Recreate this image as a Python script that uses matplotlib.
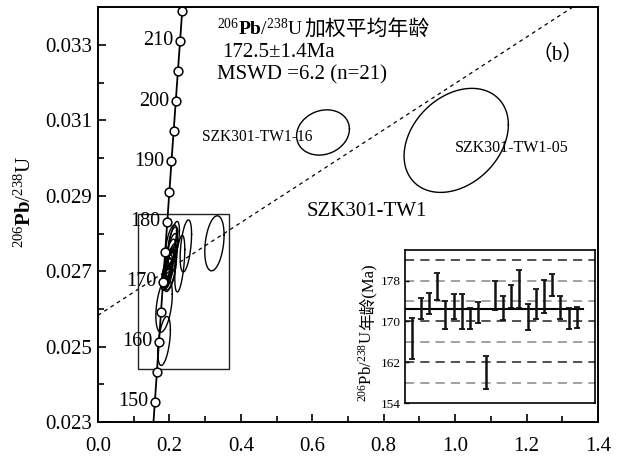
import numpy as np
import matplotlib
matplotlib.use('Agg')
import matplotlib.pyplot as plt
from matplotlib.patches import Rectangle

plt.rcParams['font.family'] = ['Liberation Serif', 'Noto Sans CJK SC']
plt.rcParams['mathtext.fontset'] = 'custom'
plt.rcParams['mathtext.rm'] = 'Liberation Serif'
plt.rcParams['mathtext.bf'] = 'Liberation Serif:bold'
plt.rcParams['mathtext.it'] = 'Liberation Serif:italic'

# ---------------- data ----------------
L238 = 1.55125e-10
L235 = 9.8485e-10
marker_ages = [145, 150, 155, 160, 165, 170, 175, 180, 185, 190, 195, 200, 205, 210, 215]
label_ages = [150, 160, 170, 180, 190, 200, 210]

# error ellipses: centre x (207Pb/235U), centre y (206Pb/238U), half-widths, correlation
ell_x = [0.185, 0.185, 0.326, 0.246, 0.229,
         0.195, 0.200, 0.205, 0.192, 0.198, 0.203, 0.190, 0.194,
         0.207, 0.199, 0.203, 0.212, 0.201, 0.206, 0.210, 0.196,
         1.003, 0.630]
ell_y = [0.02515, 0.02610, 0.02774, 0.02767, 0.02720,
         0.02712, 0.02728, 0.02781, 0.02693, 0.02719, 0.02704, 0.02682, 0.02699,
         0.02754, 0.02714, 0.02750, 0.02774, 0.02687, 0.02727, 0.02785, 0.02686,
         0.03047, 0.03068]
ell_sx = [0.0177, 0.023, 0.027, 0.016, 0.014,
          0.013, 0.014, 0.015, 0.015, 0.014, 0.017, 0.012, 0.013,
          0.015, 0.013, 0.014, 0.016, 0.016, 0.015, 0.013, 0.012,
          0.146, 0.074]
ell_sy = [0.00065, 0.00072, 0.00073, 0.00069, 0.00075,
          0.00032, 0.00034, 0.00042, 0.00043, 0.00038, 0.00054, 0.00032, 0.00034,
          0.00046, 0.00036, 0.00035, 0.00058, 0.00041, 0.00046, 0.00033, 0.00032,
          0.00138, 0.00060]
ell_rho = [0.45, 0.4, 0.3, 0.45, 0.5,
           0.6, 0.6, 0.6, 0.6, 0.6, 0.6, 0.6, 0.6,
           0.6, 0.6, 0.6, 0.6, 0.6, 0.6, 0.6, 0.6,
           0.3, 0.15]

disc_x = [0.0, 1.4]
disc_y = [0.02583, 0.03444]

box_x0, box_y0, box_x1, box_y1 = 0.1115, 0.0244, 0.368, 0.02851

xticks = [0.0, 0.2, 0.4, 0.6, 0.8, 1.0, 1.2, 1.4]
xtick_labels = ['0.0', '0.2', '0.4', '0.6', '0.8', '1.0', '1.2', '1.4']
yticks = [0.023, 0.025, 0.027, 0.029, 0.031, 0.033]
ytick_labels = ['0.023', '0.025', '0.027', '0.029', '0.031', '0.033']

# inset: weighted mean ages
inset_ages = [166.6, 172.5, 173.5, 176.8, 171.3, 172.9, 172.0, 170.6, 171.7, 160.0, 175.1,
              172.6, 174.9, 176.4, 170.9, 173.4, 174.9, 177.1, 172.7, 170.6, 170.8]
inset_errs = [4.0, 2.0, 2.1, 2.6, 2.7, 2.4, 3.4, 2.0, 2.1, 3.3, 2.9,
              2.3, 2.2, 3.7, 2.6, 2.9, 3.3, 2.1, 2.2, 2.0, 2.0]
mean_age = 172.5
ref_lines_black = [182, 170, 162]
ref_lines_gray = [178, 174, 166, 158]
inset_yticks = [154, 162, 170, 178]

W, H = 623, 457
def px(x, y):
    return x / W, 1 - y / H

fig = plt.figure(figsize=(W / 100, H / 100), dpi=100)
ax = fig.add_axes([98 / W, 35 / H, 500 / W, 414.7 / H])
ax.set_xlim(0, 1.4)
ax.set_ylim(0.023, 0.034)

# concordia
t = np.linspace(138, 225, 400) * 1e6
ax.plot(np.expm1(L235 * t), np.expm1(L238 * t), 'k-', lw=1.3, zorder=3)
ma = np.array(marker_ages) * 1e6
ax.plot(np.expm1(L235 * ma), np.expm1(L238 * ma), 'o', mfc='white', mec='k',
        ms=6.3, mew=1.1, zorder=5)
for a in label_ages:
    xa = np.expm1(L235 * a * 1e6)
    ya = np.expm1(L238 * a * 1e6)
    ax.annotate(str(a), xy=(xa, ya), xytext=(-4.8, 0), textcoords='offset points',
                ha='right', va='center', fontsize=14.5, zorder=6)

# ellipses
th = np.linspace(0, 2 * np.pi, 200)
for cx, cy, sx, sy, r in zip(ell_x, ell_y, ell_sx, ell_sy, ell_rho):
    ex = cx + sx * np.cos(th)
    ey = cy + sy * (r * np.cos(th) + np.sqrt(1 - r * r) * np.sin(th))
    ax.plot(ex, ey, 'k-', lw=1.0, zorder=4)

# discordia
ax.plot(disc_x, disc_y, color='k', lw=0.9, ls=(0, (3, 3)), zorder=2)

# rectangle
ax.add_patch(Rectangle((box_x0, box_y0), box_x1 - box_x0, box_y1 - box_y0,
                       fill=False, ec='#222222', lw=1.0, zorder=2))

ax.set_xticks(xticks)
ax.set_xticklabels(xtick_labels)
ax.set_yticks(yticks)
ax.set_yticklabels(ytick_labels)
ax.set_xticks(np.arange(0.1, 1.4, 0.2), minor=True)
ax.set_yticks(np.arange(0.024, 0.0341, 0.002), minor=True)
ax.tick_params(which='both', direction='in', top=False, right=False, width=1.2, labelsize=15)
ax.tick_params(which='major', length=6)
ax.tick_params(which='minor', length=4)
ax.tick_params(axis='x', pad=11)
ax.tick_params(axis='y', pad=4)
for s in ax.spines.values():
    s.set_linewidth(1.4)

# y label
fig.text(*px(25, 202), r'$^{206}\mathbf{Pb}/^{238}\mathrm{U}$', rotation=90,
         ha='center', va='center', fontsize=15)

# annotation texts
t1 = fig.text(*px(217, 35), r'$^{206}\mathbf{Pb}/^{238}\mathrm{U}$', fontsize=14,
              va='baseline')
fig.canvas.draw()
bb = t1.get_window_extent()
fig.text((bb.x1 + 1) / W, 1 - 35 / H, '加权平均年龄', fontsize=15, va='baseline',
         family=['Noto Sans CJK SC'])
fig.text(*px(222, 57), '172.5±1.4Ma', fontsize=15, va='baseline')
fig.text(*px(217, 79), 'MSWD =6.2 (n=21)', fontsize=15, va='baseline')
fig.text(*px(558, 55), '（b）', fontsize=15, ha='center', va='center',
         family=['Liberation Serif', 'Noto Sans CJK SC'])
fig.text(*px(202, 137), 'SZK301-TW1-16', fontsize=11.2, va='center')
fig.text(*px(455, 148), 'SZK301-TW1-05', fontsize=11.5, va='center')
fig.text(*px(307, 212), 'SZK301-TW1', fontsize=15, va='center')

# inset
ax2 = fig.add_axes([405 / W, 54 / H, 190 / W, 153 / H])
ax2.set_xlim(0.1, 23.2)
ax2.set_ylim(154, 184)
for v in ref_lines_black:
    ax2.axhline(v, color='#222222', lw=1.1, ls=(0, (6, 4)), zorder=1)
for v in ref_lines_gray:
    ax2.axhline(v, color='#888888', lw=1.1, ls=(0, (6, 4)), zorder=1)
ax2.plot([0.23, 21.76], [mean_age, mean_age], 'k-', lw=1.5, zorder=2)
idx = np.arange(1, len(inset_ages) + 1)
ax2.errorbar(idx, inset_ages, yerr=inset_errs, fmt='none', ecolor='#111111',
             elinewidth=1.8, capsize=2.2, capthick=1.3, zorder=3)
ax2.set_xticks([])
ax2.set_yticks(inset_yticks)
ax2.set_yticklabels([str(v) for v in inset_yticks])
ax2.tick_params(axis='y', direction='in', length=3, width=1, labelsize=9.5, pad=3)
for s in ax2.spines.values():
    s.set_linewidth(1.2)

l1 = fig.text(*px(367, 402), r'$^{206}\mathrm{Pb}/^{238}\mathrm{U}$', rotation=90,
              ha='center', va='bottom', fontsize=12)
ax2.annotate('年龄(Ma)', xy=(0.55, 1.0), xycoords=l1, rotation=90,
             ha='center', va='bottom', fontsize=12, annotation_clip=False)

fig.savefig('out.png', dpi=100)
